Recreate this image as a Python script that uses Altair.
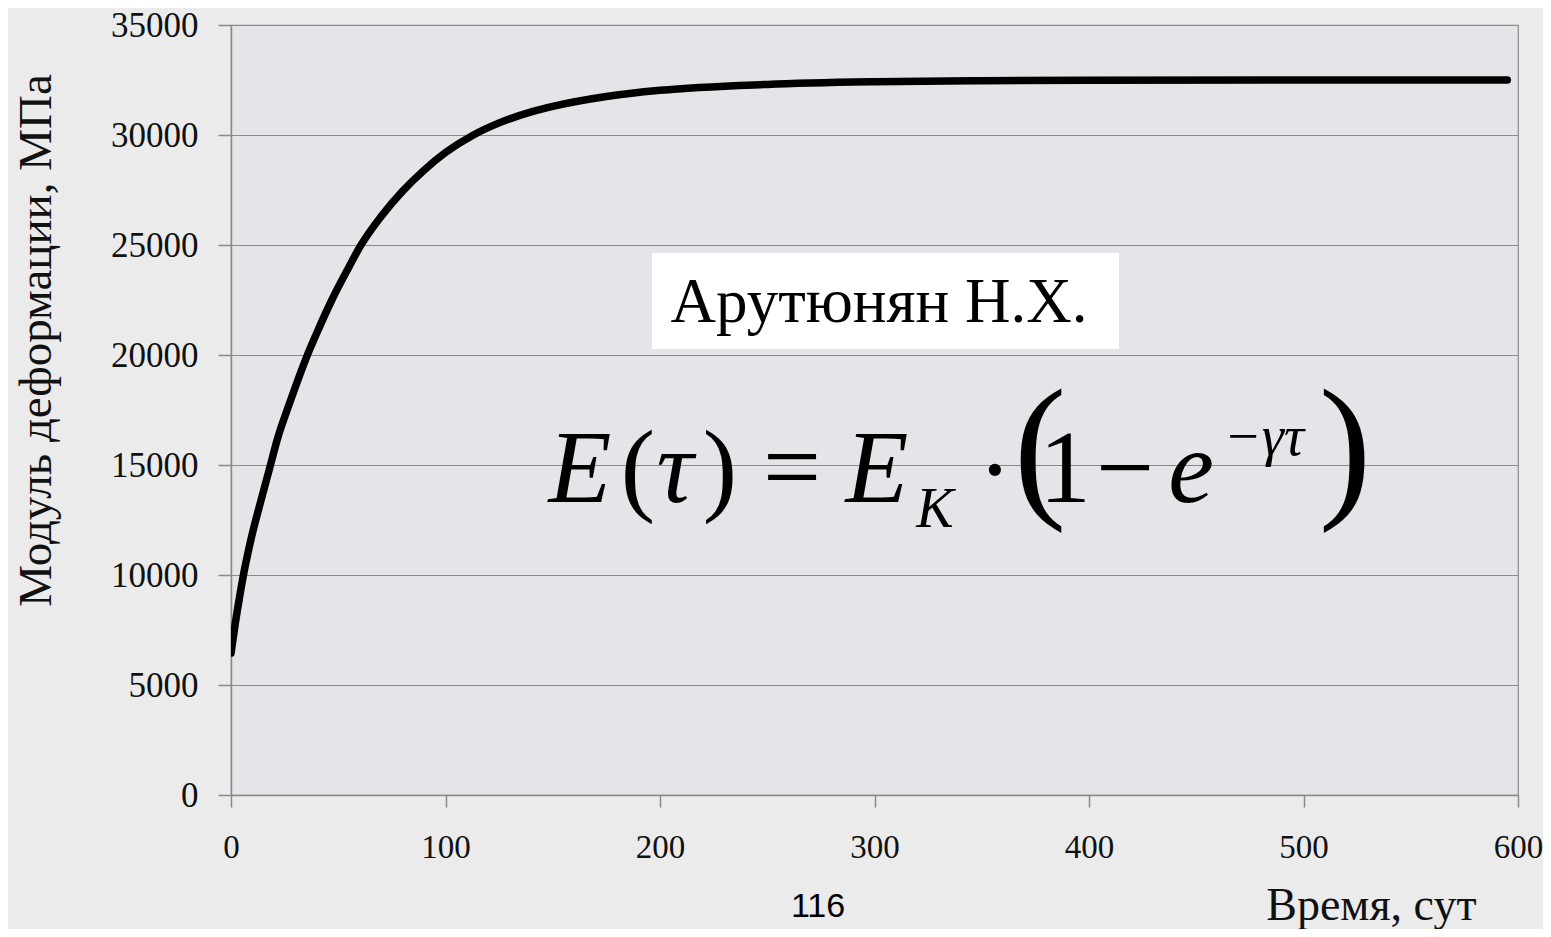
import altair as alt
import pandas as pd

# ---- data ----
days = [0, 2, 4, 6, 8, 10, 14, 18, 22, 26, 30, 35, 40, 47, 55, 60, 70, 80, 90,
        100, 113, 125, 140, 150, 175, 200, 250, 300, 350, 400, 500, 595]
modulus = [6450, 7800, 9000, 10100, 11050, 11900, 13400, 14850, 16300, 17450,
           18550, 19850, 21000, 22500, 24000, 24900, 26300, 27450, 28400, 29200,
           30000, 30550, 31050, 31300, 31750, 32030, 32300, 32420, 32470, 32490,
           32500, 32500]
x_ticks = [0, 100, 200, 300, 400, 500, 600]
y_ticks = [0, 5000, 10000, 15000, 20000, 25000, 30000, 35000]
y_title = "Модуль деформации, МПа"
x_title = "Время, сут"
author = "Арутюнян Н.Х."
page_number = "116"

df = pd.DataFrame({"t": days, "E": modulus})

GRID = "#8a8a8a"
SERIF = "Liberation Serif"
INK = "#111111"

def one():
    return alt.Data(values=[{"a": 1}])

line = alt.Chart(df).mark_line(
    color="black", strokeWidth=7.5, strokeCap="round", strokeJoin="round",
    interpolate="monotone", clip=True
).encode(
    x=alt.X("t:Q", scale=alt.Scale(domain=[0, 600], nice=False),
            axis=alt.Axis(values=x_ticks, format="d", grid=False, tickSize=12,
                          labelPadding=24, labelFontSize=33, labelFont=SERIF,
                          labelColor=INK, labelFlush=False, labelOverlap=False,
                          domainColor=GRID, tickColor=GRID, tickWidth=1.5, domainWidth=1.5,
                          title=x_title, titleFont=SERIF, titleFontSize=46,
                          titleFontWeight="normal", titleColor=INK,
                          titleX=1245, titleY=124, titleAlign="right",
                          titleBaseline="alphabetic")),
    y=alt.Y("E:Q", scale=alt.Scale(domain=[0, 35000], nice=False),
            axis=alt.Axis(values=y_ticks, format="d", grid=True, gridColor=GRID,
                          gridWidth=1.2, tickSize=13, labelPadding=20,
                          labelFontSize=35, labelFont=SERIF, labelColor=INK,
                          labelFlush=False, labelOverlap=False,
                          domainColor=GRID, tickColor=GRID, tickWidth=1.5, domainWidth=1.5,
                          title=y_title, titleFont=SERIF, titleFontSize=47,
                          titleFontWeight="normal", titleColor=INK, titleAngle=270,
                          titleX=-181, titleY=315, titleAlign="center",
                          titleBaseline="alphabetic")),
)

box = alt.Chart(one()).mark_rect(fill="white").encode(
    x=alt.value(421), x2=alt.value(888), y=alt.value(228), y2=alt.value(324)
)

author_text = alt.Chart(one()).mark_text(
    text=author, font=SERIF, fontSize=63, color="black",
    align="center", baseline="alphabetic"
).encode(x=alt.value(648), y=alt.value(297))

# formula pieces: (text, x, y, size, style)
formula = [
    ("E", 349, 477, 103, "italic"),
    ("(", 407, 477, 103, "normal"),
    ("τ", 444, 477, 103, "italic"),
    (")", 489, 477, 103, "normal"),
    ("=", 561, 477, 103, "normal"),
    ("E", 646, 477, 103, "italic"),
    ("K", 704, 502, 56, "italic"),
    ("·", 764, 479, 103, "normal"),
    ("(", 809, 474, 158, "normal"),
    ("1", 834, 477, 103, "normal"),
    ("−", 894, 477, 103, "normal"),
    ("e", 960, 477, 103, "italic"),
    ("−γτ", 1033, 430, 56, "italic"),
    (")", 1114, 474, 158, "normal"),
]
formula_layers = [
    alt.Chart(one()).mark_text(
        text=t, font=SERIF, fontSize=s, fontStyle=st, color="black",
        align="center", baseline="alphabetic"
    ).encode(x=alt.value(xx), y=alt.value(yy))
    for (t, xx, yy, s, st) in formula
]

page_text = alt.Chart(one()).mark_text(
    text=page_number, font="Liberation Sans", fontSize=34, color="black",
    align="center", baseline="alphabetic"
).encode(x=alt.value(587), y=alt.value(892))

chart = alt.layer(box, author_text, *formula_layers, page_text, line).properties(
    width=1287, height=770,
    autosize=alt.AutoSizeParams(type="none"),
    padding={"left": 223, "top": 17, "right": 25, "bottom": 134},
).configure(
    background="#ebebeb"
).configure_view(
    fill="#e4e5e8", stroke=GRID, strokeWidth=1.2
)

chart.save("out.html", embed_options={"renderer": "svg", "actions": False})
